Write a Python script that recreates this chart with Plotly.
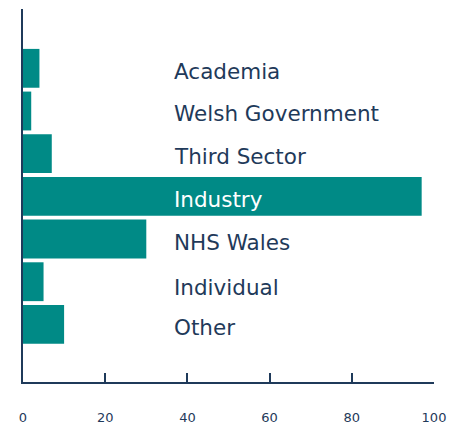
import plotly.graph_objects as go

categories = ["Academia", "Welsh Government", "Third Sector", "Industry", "NHS Wales", "Individual", "Other"]
values = [4, 2, 7, 97, 30, 5, 10]
tick_values = [0, 20, 40, 60, 80, 100]

BAR = "#008a86"
INK = "#1f3a5a"
FONT = "DejaVu Sans, sans-serif"

fig = go.Figure()
fig.add_trace(go.Bar(
    x=values, y=categories, orientation="h",
    marker=dict(color=BAR, line=dict(width=0)),
    hoverinfo="x+y",
))

label_shift = [-3, -2, -3, -3, -3, -6, -3]
label_colors = [INK, INK, INK, "white", INK, INK, INK]
for c, s, col in zip(categories, label_shift, label_colors):
    fig.add_annotation(
        x=36.2, y=c, xref="x", yref="y", text=c, showarrow=False,
        xanchor="left", yanchor="middle", yshift=s,
        font=dict(family=FONT, size=21.5, color=col),
    )

fig.update_layout(
    width=448, height=419,
    margin=dict(l=15, r=22, t=1, b=45, autoexpand=False),
    paper_bgcolor="white", plot_bgcolor="white",
    bargap=0.09,
    showlegend=False,
    font=dict(family=FONT, color=INK),
)
fig.update_xaxes(
    range=[0, 100], tickvals=tick_values, showgrid=False, zeroline=False,
    showline=True, linecolor=INK, linewidth=2,
    ticks="inside", ticklen=9, tickwidth=2, tickcolor=INK,
    ticklabelstandoff=22,
    tickfont=dict(family=FONT, size=13, color=INK),
)
fig.update_yaxes(
    type="category", categoryorder="array", categoryarray=categories,
    range=[6 + 1.35, -1.39], showticklabels=False, showgrid=False, zeroline=False,
    showline=True, linecolor=INK, linewidth=2, ticks="",
)

fig.write_html("out.html")
